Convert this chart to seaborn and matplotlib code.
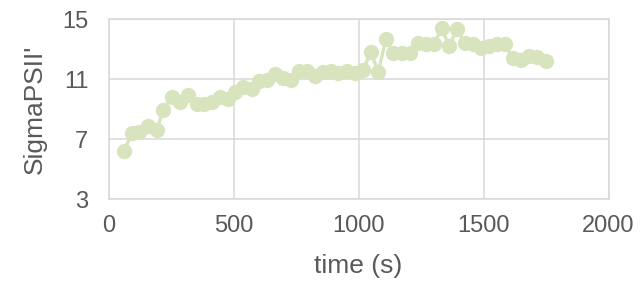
import numpy as np
import pandas as pd
import matplotlib
matplotlib.use("Agg")
import matplotlib.pyplot as plt
import seaborn as sns

# values
time_s = [62, 93, 123, 157, 193, 219, 253, 286, 317, 353, 382, 415, 446, 477,
          506, 539, 573, 603, 635, 666, 699, 730, 762, 793, 826, 857, 889, 919,
          953, 986, 1019, 1049, 1079, 1110, 1139, 1173, 1206, 1237, 1270, 1302,
          1333, 1362, 1395, 1426, 1459, 1490, 1523, 1555, 1586, 1617, 1649,
          1682, 1713, 1749]
sigma_psii = [6.23, 7.41, 7.52, 7.92, 7.63, 8.97, 9.85, 9.52, 9.97, 9.37, 9.35,
              9.48, 9.85, 9.70, 10.19, 10.48, 10.37, 10.90, 10.97, 11.37, 11.12,
              10.97, 11.57, 11.59, 11.23, 11.52, 11.59, 11.45, 11.57, 11.45,
              11.63, 12.83, 11.52, 13.70, 12.75, 12.75, 12.78, 13.41, 13.35,
              13.37, 14.41, 13.26, 14.34, 13.41, 13.35, 13.12, 13.26, 13.35,
              13.35, 12.41, 12.30, 12.57, 12.48, 12.26]

x_ticks = [0, 500, 1000, 1500, 2000]
y_ticks = [3, 7, 11, 15]

df = pd.DataFrame({"time": time_s, "sigma": sigma_psii})

sns.set_style("white")
plt.rcParams["font.family"] = ["Liberation Sans", "DejaVu Sans"]

GREEN = "#D7E4BD"
GRID = "#D9D9D9"
TEXT = "#595959"

fig = plt.figure(figsize=(6.44, 2.82), dpi=100)
ax = fig.add_axes([0.1685, 0.2926, 0.7764, 0.6383])

sns.lineplot(data=df, x="time", y="sigma", ax=ax, sort=False, color=GREEN,
             linewidth=2.4, marker="o", markersize=11, markeredgewidth=0,
             markerfacecolor=GREEN)

ax.set_xlim(0, 2000)
ax.set_ylim(3, 15)
ax.set_xticks(x_ticks)
ax.set_yticks(y_ticks)
ax.grid(True, color=GRID, linewidth=1.1)
ax.set_axisbelow(True)
for s in ax.spines.values():
    s.set_color(GRID)
    s.set_linewidth(1.1)

ax.tick_params(axis="both", length=0, labelsize=17, labelcolor=TEXT)
ax.tick_params(axis="y", pad=14.5)
ax.tick_params(axis="x", pad=11.5)
ax.set_xlabel("time (s)", fontsize=19, color=TEXT)
ax.set_ylabel("SigmaPSII'", fontsize=19, color=TEXT)
ax.xaxis.set_label_coords(0.5, -0.305)
ax.yaxis.set_label_coords(-0.123, 0.5)

fig.savefig("out.png", dpi=100)
